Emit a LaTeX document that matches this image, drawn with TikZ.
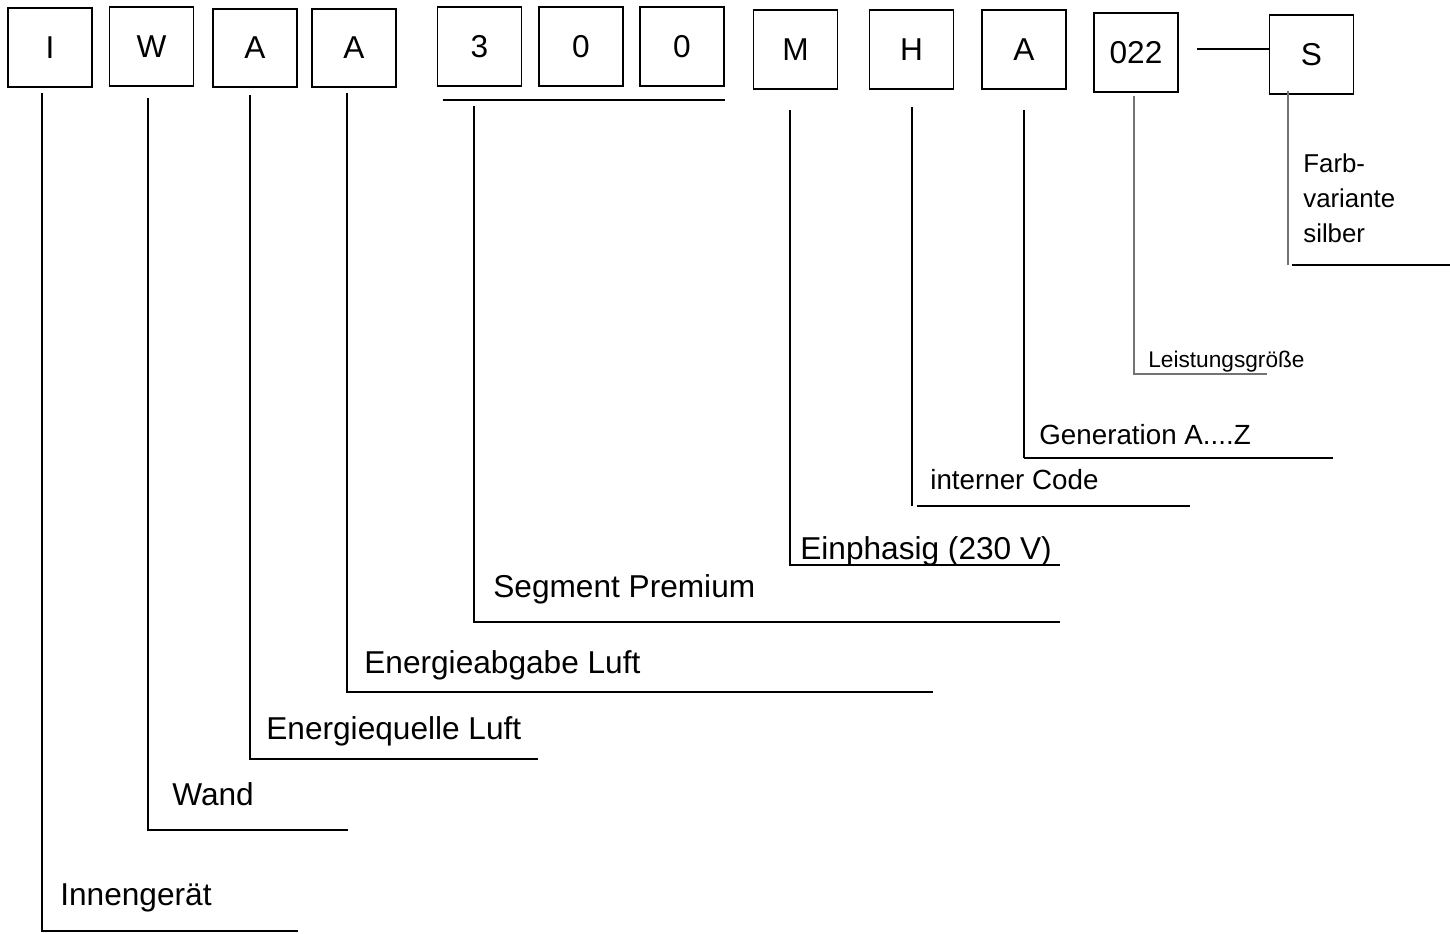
\documentclass[tikz,border=0pt]{standalone}
\usepackage{fontspec}
\setmainfont{Liberation Sans}
\usepackage{tikz}
\usetikzlibrary{
  positioning,
  calc,
}
\def\myboxw{1.68cm}
\def\myboxh{1.57cm}
\tikzset{
  my box/.style={
    draw,
    line width=1.1pt,
    minimum width=\myboxw,
    minimum height=\myboxh,
    inner sep=0mm,
    font=\fontsize{18}{22}\selectfont
  },
  my leg/.style={
    line width=1pt
  },
  my thin leg/.style={
    line width=0.6pt,
    draw=black!55
  },
  my label/.style={
    anchor=base west,
    inner sep=0mm,
    font=\fontsize{18}{22}\selectfont
  },
  my mid label/.style={
    my label,
    font=\fontsize{15.8}{19}\selectfont
  },
  my small label/.style={
    my label,
    font=\fontsize{12.9}{15}\selectfont
  }
}

\begin{document}
\begin{tikzpicture}[x=0.02cm,y=-0.02cm]
\useasboundingbox (0,0) rectangle (1450,933);
% code boxes
\node[my box] (bI)  at (50,47.5)     {I};
\node[my box] (bW)  at (151.5,46.5)  {W};
\node[my box] (bA1) at (255,48)      {A};
\node[my box] (bA2) at (354,48)      {A};
\node[my box] (b3)  at (479.5,46.5)  {3};
\node[my box] (b0a) at (581,46.5)    {0};
\node[my box] (b0b) at (682,46.5)    {0};
\node[my box] (bM)  at (795.5,49.5)  {M};
\node[my box] (bH)  at (911.5,49.5)  {H};
\node[my box] (bA3) at (1024,49.5)   {A};
\node[my box] (b22) at (1136,52.5)   {022};
\node[my box] (bS)  at (1311.5,54.5) {S};
\coordinate (dash) at (1197,49);
\draw[line width=1.3pt] (dash) -- (bS.west |- dash);
\draw[line width=1.1pt] (b3.south west) ++(6,13) coordinate (u1) -- (b0b.south east |- u1);
% labels
\node[my label] (lI)  at (60,905)   {Innengerät};
\node[my label] (lW)  at (172,805)  {Wand};
\node[my label] (lA1) at (266,739)  {Energiequelle Luft};
\node[my label] (lA2) at (364,673)  {Energieabgabe Luft};
\node[my label] (l3)  at (493,597)  {Segment Premium};
\node[my label] (lM)  at (800,559)  {Einphasig (230 V)};
\node[my mid label] (lH)  at (930,489)  {interner Code};
\node[my mid label] (lA3) at (1039,444) {Generation A....Z};
\node[my small label] (l22) at (1148,367) {Leistungsgröße};
% base of a multi-line node sits on its last line
\node[my label, align=left, font=\fontsize{14.7}{19.8}\selectfont] (lS) at (1303,242) {Farb-\\variante\\silber};
% legs
\coordinate (tI)  at (42,93);    \coordinate (eI)  at (298,931);
\coordinate (tW)  at (148,98);   \coordinate (eW)  at (348,830);
\coordinate (tA1) at (250,95);   \coordinate (eA1) at (538,759);
\coordinate (tA2) at (347,93);   \coordinate (eA2) at (933,692);
\coordinate (t3)  at (474,106);  \coordinate (e3)  at (1060,622);
\coordinate (tM)  at (790,110);  \coordinate (eM)  at (1060,565);
\coordinate (tH)  at (912,107);  \coordinate (eH)  at (1190,506);
\coordinate (tA3) at (1024,110); \coordinate (eA3) at (1333,458);
\coordinate (t22) at (1134,96);  \coordinate (e22) at (1267,374);
\coordinate (tS)  at (1288,91);  \coordinate (eS)  at (1450,265);
\draw[my leg] (tI) |- (eI);
\draw[my leg] (tW) |- (eW);
\draw[my leg] (tA1) |- (eA1);
\draw[my leg] (tA2) |- (eA2);
\draw[my leg] (t3) |- (e3);
\draw[my leg] (tM) |- (eM);
\draw[my leg] (tH) -- (tH |- eH);
\draw[line width=1.6pt] ([xshift=3pt]tH |- eH) -- (eH);
\draw[my leg] (tA3) -- (tA3 |- eA3);
\draw[line width=1.6pt] (tA3 |- eA3) -- (eA3);
\draw[my thin leg] (t22) |- (e22);
\draw[my thin leg] (tS) -- (tS |- eS);
\draw[my leg] ([xshift=2pt]tS |- eS) -- (eS);
\end{tikzpicture}
\end{document}
